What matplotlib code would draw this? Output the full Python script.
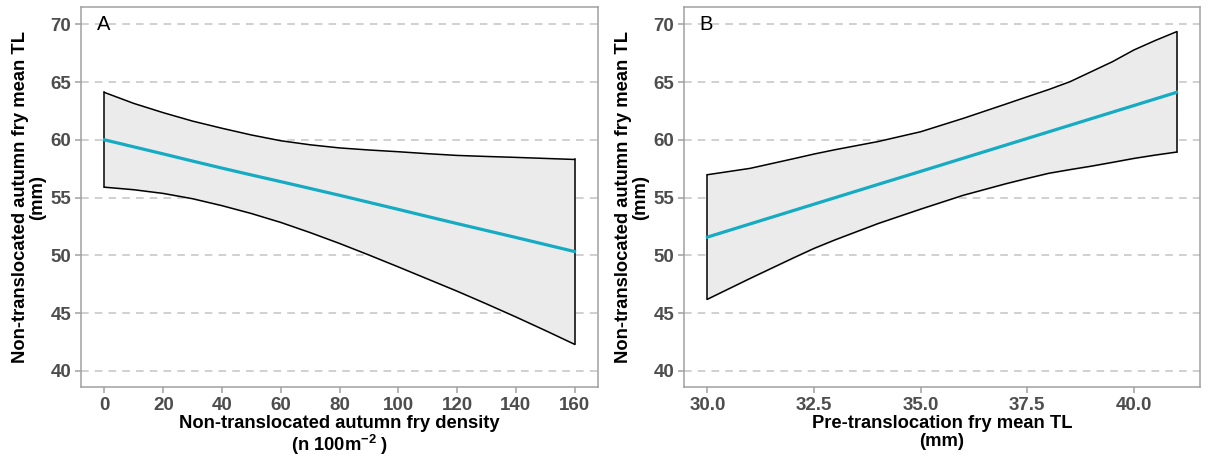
import numpy as np
import matplotlib.pyplot as plt

plt.rcParams['font.family'] = ['Liberation Sans', 'DejaVu Sans']
plt.rcParams['mathtext.fontset'] = 'custom'
plt.rcParams['mathtext.rm'] = 'Liberation Sans:bold'
plt.rcParams['mathtext.bf'] = 'Liberation Sans:bold'

# Panel A: fry density vs mean TL
dens_x = [0, 10, 20, 30, 40, 50, 60, 70, 80, 90, 100, 110, 120, 130, 140, 150, 160]
dens_fit = [60.0, 59.39, 58.78, 58.16, 57.55, 56.96, 56.38, 55.79, 55.2, 54.59,
            53.98, 53.36, 52.75, 52.15, 51.55, 50.94, 50.33]
dens_upper = [64.1, 63.15, 62.35, 61.62, 61.0, 60.42, 59.92, 59.57, 59.3, 59.12,
              58.97, 58.8, 58.65, 58.56, 58.48, 58.39, 58.3]
dens_lower = [55.9, 55.68, 55.36, 54.9, 54.3, 53.62, 52.85, 51.97, 51.03, 50.03,
              49.0, 47.95, 46.9, 45.8, 44.67, 43.5, 42.3]

# Panel B: pre-translocation TL vs mean TL
tl_x = [30.0, 31.0, 32.0, 32.5, 33.0, 34.0, 35.0, 36.0, 37.0, 37.5, 38.0, 38.5,
        39.0, 39.5, 40.0, 40.5, 41.0]
tl_fit = [51.58, 52.72, 53.86, 54.43, 55.0, 56.14, 57.27, 58.41, 59.55, 60.12,
          60.69, 61.26, 61.83, 62.4, 62.97, 63.54, 64.11]
tl_upper = [56.98, 57.53, 58.35, 58.77, 59.15, 59.85, 60.7, 61.86, 63.1, 63.73,
            64.35, 65.03, 65.9, 66.77, 67.78, 68.6, 69.36]
tl_lower = [46.2, 48.0, 49.75, 50.6, 51.35, 52.75, 54.0, 55.2, 56.2, 56.66,
            57.1, 57.42, 57.72, 58.05, 58.39, 58.68, 58.94]

y_ticks = [40, 45, 50, 55, 60, 65, 70]
xticks_a = [0, 20, 40, 60, 80, 100, 120, 140, 160]
xticks_b = [30.0, 32.5, 35.0, 37.5, 40.0]

line_col = "#14ABC3"
band_col = "#EBEBEB"
frame_col = "#A0A0A0"
tick_col = "#4D4D4D"
ylabel = "Non-translocated autumn fry mean TL\n(mm)"

fig = plt.figure(figsize=(12.09, 4.59), dpi=100)
ax_a = fig.add_axes([81 / 1209, 72 / 459, 517 / 1209, 380 / 459])
ax_b = fig.add_axes([684 / 1209, 72 / 459, 516 / 1209, 380 / 459])


def style(ax, xticks, xlabels, xlabel, tag):
    ax.set_ylim(38.6, 71.5)
    ax.set_yticks(y_ticks)
    ax.set_xticks(xticks)
    ax.set_xticklabels(xlabels)
    for yv in y_ticks:
        ax.axhline(yv, color="#C4C4C4", lw=1.1, ls=(0, (5, 4)), zorder=0)
    for sp in ax.spines.values():
        sp.set_color(frame_col)
        sp.set_linewidth(1.1)
    ax.tick_params(colors=frame_col, width=1.1, length=4, labelcolor=tick_col,
                   labelsize=13.5, pad=3)
    for lab in ax.get_xticklabels() + ax.get_yticklabels():
        lab.set_fontweight("bold")
    ax.set_ylabel(ylabel, fontsize=13.2, fontweight="bold", labelpad=3,
                  linespacing=1.0)
    ax.set_xlabel(xlabel, fontsize=13.2, fontweight="bold", labelpad=1,
                  linespacing=1.05)
    ax.text(0.03, 0.98, tag, transform=ax.transAxes, fontsize=14.5,
            va="top", ha="left")


def band(ax, x, lower, upper, fit):
    ax.fill_between(x, lower, upper, color=band_col, zorder=1)
    ax.plot(x, upper, color="black", lw=1.1, zorder=2)
    ax.plot(x, lower, color="black", lw=1.1, zorder=2)
    ax.plot([x[0], x[0]], [lower[0], upper[0]], color="black", lw=1.1, zorder=2)
    ax.plot([x[-1], x[-1]], [lower[-1], upper[-1]], color="black", lw=1.1, zorder=2)
    ax.plot(x, fit, color=line_col, lw=2.3, zorder=3)


# Panel A
band(ax_a, dens_x, dens_lower, dens_upper, dens_fit)
ax_a.set_xlim(-8, 168)
style(ax_a, xticks_a, [str(v) for v in xticks_a],
      "Non-translocated autumn fry density\n(n 100m$^{-2}$ )", "A")

# Panel B
band(ax_b, tl_x, tl_lower, tl_upper, tl_fit)
ax_b.set_xlim(29.45, 41.55)
style(ax_b, xticks_b, [f"{v:.1f}" for v in xticks_b],
      "Pre-translocation fry mean TL\n(mm)", "B")

fig.savefig("out.png", dpi=100)
